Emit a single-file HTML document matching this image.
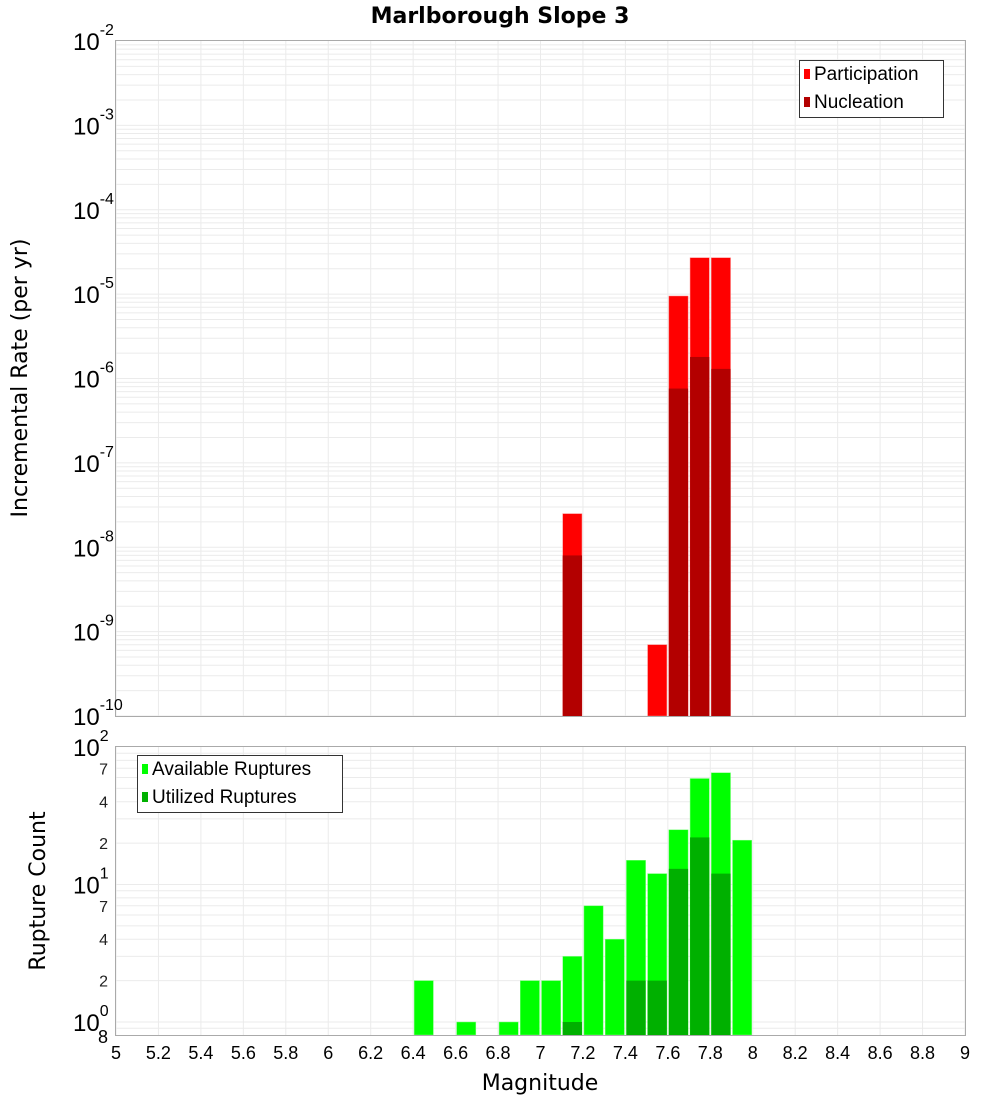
<!DOCTYPE html>
<html><head><meta charset="utf-8"><style>
body{margin:0;background:#fff;}
svg{display:block;font-family:"Liberation Sans","DejaVu Sans",sans-serif;}
</style></head><body>
<svg id="chart" width="1000" height="1100" xmlns="http://www.w3.org/2000/svg">
<text x="500" y="23" text-anchor="middle" font-size="22" font-weight="bold" font-family="DejaVu Sans, sans-serif">Marlborough Slope 3</text>
<g id="topplot"></g>
<g id="botplot"></g>
<text x="540" y="1090" text-anchor="middle" font-size="22" font-family="DejaVu Sans, sans-serif">Magnitude</text>
<text transform="translate(27,378) rotate(-90)" text-anchor="middle" font-size="22" font-family="DejaVu Sans, sans-serif">Incremental Rate (per yr)</text>
<text transform="translate(45,891) rotate(-90)" text-anchor="middle" font-size="22" font-family="DejaVu Sans, sans-serif">Rupture Count</text>
</svg>
<script>
const xTicks=[5,5.2,5.4,5.6,5.8,6,6.2,6.4,6.6,6.8,7,7.2,7.4,7.6,7.8,8,8.2,8.4,8.6,8.8,9];
const rateMags=[7.15,7.55,7.65,7.75,7.85];
const participation=[2.5e-8,7e-10,9.5e-6,2.7e-5,2.7e-5];
const nucleation=[8e-9,0,7.6e-7,1.8e-6,1.3e-6];
const countMags=[6.45,6.65,6.85,6.95,7.05,7.15,7.25,7.35,7.45,7.55,7.65,7.75,7.85,7.95];
const available=[2,1,1,2,2,3,7,4,15,12,25,59,65,21];
const utilized=[0,0,0,0,0,1,0,0,2,2,13,22,12,0];
const topExps=[-2,-3,-4,-5,-6,-7,-8,-9,-10];
const botExps=[2,1,0];
const botMinor=[7,4,2];

const NS="http://www.w3.org/2000/svg";
const L=116,R=965;
const X=v=>L+(v-5)/4*(R-L);
const T0=41,T1=716,B0=747,B1=1035;
const yTop=v=>T0+(-2-Math.log10(v))/8*(T1-T0);
const botDec=137.5;
const yBot=v=>B0+(2-Math.log10(v))*botDec;
function mk(p,tag,at,txt){const e=document.createElementNS(NS,tag);for(const k in at)e.setAttribute(k,at[k]);if(txt!==undefined)e.textContent=txt;p.appendChild(e);return e;}
const topG=document.getElementById('topplot'),botG=document.getElementById('botplot');

for(let d=-10;d<-2;d++){for(let m=1;m<10;m++){const y=yTop(m*Math.pow(10,d));if(y<T0||y>T1)continue;
const g=mk(topG,'line',{x1:L,x2:R,y1:y,y2:y,stroke:'#ebebeb','stroke-width':1});

}}
for(const v of xTicks){const g=mk(topG,'line',{x1:X(v),x2:X(v),y1:T0,y2:T1,stroke:'#ebebeb'});


const g2=mk(botG,'line',{x1:X(v),x2:X(v),y1:B0,y2:B1,stroke:'#ebebeb'});

}
for(let d=-1;d<2;d++){for(let m=1;m<10;m++){const y=yBot(m*Math.pow(10,d));if(y<B0||y>B1)continue;
const g=mk(botG,'line',{x1:L,x2:R,y1:y,y2:y,stroke:'#ebebeb'});

}}

const bw=0.1;
rateMags.forEach((m,i)=>{
 const x0=X(m-bw/2)+1,w=X(m+bw/2)-X(m-bw/2)-2;
 if(participation[i]>0){const y=Math.max(T0,yTop(participation[i]));
 const b=mk(topG,'rect',{x:x0,y:y,width:w,height:T1-y,fill:'#ff0000',stroke:'#ff8080','stroke-width':0.5});
 
 }
 if(nucleation[i]>0){const y=Math.max(T0,yTop(nucleation[i]));
 const b=mk(topG,'rect',{x:x0,y:y,width:w,height:T1-y,fill:'#b30000'});
 
 }
});
countMags.forEach((m,i)=>{
 const x0=X(m-bw/2)+1,w=X(m+bw/2)-X(m-bw/2)-2;
 if(available[i]>0){const y=yBot(available[i]);
 const b=mk(botG,'rect',{x:x0,y:y,width:w,height:B1-y,fill:'#00ff00',stroke:'#80ff80','stroke-width':0.5});
 
 }
 if(utilized[i]>0){const y=yBot(utilized[i]);
 const b=mk(botG,'rect',{x:x0,y:y,width:w,height:B1-y,fill:'#00b000'});
 
 }
});
const f1=mk(topG,'rect',{x:L-0.5,y:T0-0.5,width:R-L+1,height:T1-T0+1,fill:'none',stroke:'#aaa'});


const f2=mk(botG,'rect',{x:L-0.5,y:B0-0.5,width:R-L+1,height:B1-B0+1,fill:'none',stroke:'#aaa'});



topExps.forEach(e=>{const y=yTop(Math.pow(10,e));
 const t=mk(topG,'text',{x:73,y:y+9,'font-size':24});
 
 
 mk(t,'tspan',{},'10');mk(t,'tspan',{dy:-15,'font-size':16},String(e));});
botExps.forEach(e=>{const y=yBot(Math.pow(10,e));
 const t=mk(botG,'text',{x:73,y:y+9,'font-size':24});
 
 
 mk(t,'tspan',{},'10');mk(t,'tspan',{dy:-15,'font-size':16},String(e));
 botMinor.forEach(m=>{const v=m*Math.pow(10,e-1);const yy=yBot(v);if(yy<B0||yy>B1)return;
  const tt=mk(botG,'text',{x:108,y:yy+6,'font-size':16,'text-anchor':'end',fill:'#222'},String(m));
  
  });
});
const t8=mk(botG,'text',{x:108,y:1043,'font-size':18,'text-anchor':'end'},'8');


xTicks.forEach(v=>{const t=mk(botG,'text',{x:X(v),y:1059,'font-size':18,'text-anchor':'middle'},String(v));
 
 });

function legend(p,x,y,w,items,name){const g=mk(p,'g',{});
 
 
 mk(g,'rect',{x:x+0.5,y:y+0.5,width:w,height:57,fill:'#fff',stroke:'#333'});
 items.forEach((it,i)=>{mk(g,'rect',{x:x+5,y:y+9+i*28,width:6,height:10,fill:it[1]});
  mk(g,'text',{x:x+15,y:y+20+i*28,'font-size':19},it[0]);});}
legend(topG,799,60,144,[['Participation','#ff0000'],['Nucleation','#b30000']],'rate-legend');
legend(botG,137,755,205,[['Available Ruptures','#00ff00'],['Utilized Ruptures','#00b000']],'count-legend');
</script>
</body></html>
